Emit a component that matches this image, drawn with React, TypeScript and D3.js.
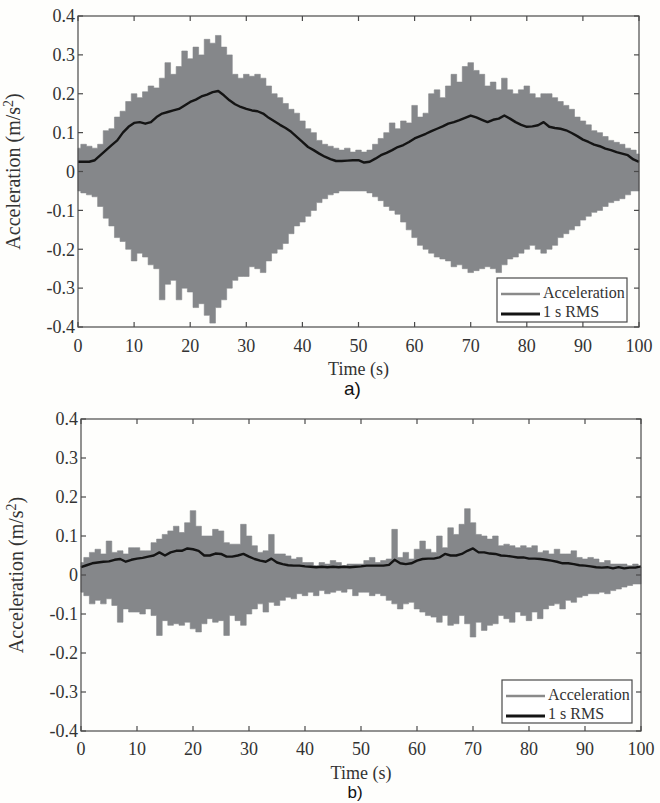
import React from "react";
import * as d3 from "d3";

// Time stamps (s), one per second of record
const TIME: number[] = d3.range(0, 101);

// Panel a) — peak envelope of the acceleration signal and the 1 s RMS (m/s²)
const A_UPPER: number[] = [
  0.06, 0.07, 0.065, 0.06, 0.07, 0.105, 0.11, 0.14, 0.155, 0.18,
  0.2, 0.19, 0.205, 0.22, 0.215, 0.24, 0.28, 0.25, 0.27, 0.31,
  0.29, 0.32, 0.3, 0.34, 0.33, 0.35, 0.32, 0.3, 0.25, 0.24,
  0.25, 0.245, 0.25, 0.24, 0.22, 0.2, 0.19, 0.175, 0.16, 0.15,
  0.13, 0.11, 0.1, 0.08, 0.07, 0.065, 0.06, 0.055, 0.06, 0.05,
  0.055, 0.05, 0.055, 0.07, 0.085, 0.1, 0.125, 0.11, 0.13, 0.125,
  0.17, 0.14, 0.15, 0.2, 0.21, 0.19, 0.22, 0.25, 0.23, 0.27,
  0.28, 0.26, 0.25, 0.22, 0.23, 0.21, 0.24, 0.21, 0.2, 0.21,
  0.22, 0.2, 0.19, 0.2, 0.2, 0.19, 0.18, 0.17, 0.16, 0.14,
  0.13, 0.12, 0.105, 0.1, 0.09, 0.08, 0.075, 0.07, 0.06, 0.055,
  0.045,
];
const A_LOWER: number[] = [
  -0.05, -0.055, -0.06, -0.065, -0.09, -0.12, -0.14, -0.17, -0.18, -0.2,
  -0.23, -0.21, -0.22, -0.24, -0.25, -0.33, -0.29, -0.28, -0.33, -0.3,
  -0.31, -0.35, -0.34, -0.37, -0.39, -0.35, -0.33, -0.3, -0.28, -0.27,
  -0.27, -0.245, -0.25, -0.26, -0.23, -0.21, -0.2, -0.185, -0.16, -0.14,
  -0.13, -0.115, -0.1, -0.08, -0.07, -0.06, -0.055, -0.05, -0.05, -0.05,
  -0.05, -0.05, -0.055, -0.065, -0.075, -0.09, -0.1, -0.11, -0.13, -0.15,
  -0.17, -0.19, -0.2, -0.21, -0.22, -0.225, -0.23, -0.245, -0.24, -0.25,
  -0.26, -0.255, -0.25, -0.245, -0.25, -0.26, -0.24, -0.225, -0.22, -0.21,
  -0.2, -0.19, -0.2, -0.21, -0.2, -0.19, -0.17, -0.16, -0.15, -0.14,
  -0.125, -0.115, -0.105, -0.1, -0.09, -0.08, -0.075, -0.07, -0.06, -0.05,
  -0.05,
];
const A_RMS: number[] = [
  0.025, 0.025, 0.025, 0.029, 0.042, 0.055, 0.068, 0.08, 0.1, 0.115,
  0.125, 0.127, 0.123, 0.127, 0.14, 0.149, 0.153, 0.157, 0.161, 0.17,
  0.179, 0.185, 0.193, 0.198, 0.204, 0.207, 0.196, 0.183, 0.173, 0.166,
  0.161, 0.157, 0.155, 0.149, 0.138, 0.129, 0.12, 0.112, 0.102, 0.089,
  0.076, 0.063, 0.055, 0.046, 0.038, 0.032, 0.027, 0.027, 0.028, 0.029,
  0.029, 0.023, 0.025, 0.033, 0.042, 0.048, 0.055, 0.063, 0.068, 0.076,
  0.085, 0.091, 0.097, 0.104, 0.11, 0.116, 0.123, 0.127, 0.132, 0.138,
  0.144, 0.139, 0.133, 0.127, 0.133, 0.136, 0.144, 0.136, 0.127, 0.12,
  0.115, 0.116, 0.119, 0.127, 0.115, 0.112, 0.11, 0.106, 0.099, 0.091,
  0.082, 0.076, 0.069, 0.065, 0.059, 0.055, 0.05, 0.046, 0.042, 0.031,
  0.025,
];

// Panel b) — peak envelope of the acceleration signal and the 1 s RMS (m/s²)
const B_UPPER: number[] = [
  0.032, 0.045, 0.058, 0.066, 0.054, 0.087, 0.058, 0.062, 0.054, 0.07,
  0.07, 0.062, 0.062, 0.083, 0.092, 0.104, 0.113, 0.125, 0.109, 0.134,
  0.165, 0.125, 0.1, 0.1, 0.117, 0.113, 0.083, 0.079, 0.079, 0.13,
  0.1, 0.075, 0.058, 0.062, 0.104, 0.054, 0.054, 0.049, 0.041, 0.045,
  0.032, 0.032, 0.024, 0.032, 0.028, 0.037, 0.032, 0.024, 0.028, 0.028,
  0.028, 0.037, 0.045, 0.032, 0.037, 0.041, 0.117, 0.045, 0.058, 0.041,
  0.066, 0.087, 0.066, 0.058, 0.1, 0.07, 0.121, 0.104, 0.13, 0.17,
  0.134, 0.104, 0.1, 0.092, 0.1, 0.075, 0.079, 0.075, 0.07, 0.075,
  0.07, 0.075, 0.058, 0.062, 0.054, 0.066, 0.054, 0.054, 0.062, 0.045,
  0.041, 0.045, 0.041, 0.032, 0.037, 0.028, 0.028, 0.028, 0.024, 0.028,
  0.02,
];
const B_LOWER: number[] = [
  -0.044, -0.053, -0.074, -0.065, -0.074, -0.061, -0.078, -0.121, -0.087, -0.095,
  -0.095, -0.1, -0.087, -0.104, -0.155, -0.117, -0.129, -0.125, -0.129, -0.121,
  -0.138, -0.146, -0.125, -0.112, -0.121, -0.117, -0.155, -0.104, -0.117, -0.129,
  -0.1, -0.087, -0.074, -0.095, -0.07, -0.078, -0.065, -0.057, -0.061, -0.048,
  -0.053, -0.044, -0.053, -0.04, -0.048, -0.044, -0.04, -0.044, -0.036, -0.053,
  -0.044, -0.044, -0.053, -0.048, -0.053, -0.065, -0.074, -0.087, -0.074, -0.07,
  -0.087, -0.095, -0.104, -0.108, -0.121, -0.104, -0.129, -0.125, -0.104, -0.125,
  -0.159, -0.121, -0.142, -0.129, -0.125, -0.104, -0.112, -0.121, -0.095, -0.104,
  -0.117, -0.095, -0.112, -0.087, -0.078, -0.074, -0.087, -0.065, -0.07, -0.057,
  -0.053, -0.048, -0.048, -0.044, -0.048, -0.04, -0.036, -0.031, -0.027, -0.023,
  -0.023,
];
const B_RMS: number[] = [
  0.02, 0.025, 0.03, 0.032, 0.034, 0.035, 0.039, 0.041, 0.034, 0.039,
  0.042, 0.044, 0.047, 0.05, 0.058, 0.05, 0.058, 0.062, 0.062, 0.068,
  0.066, 0.062, 0.05, 0.05, 0.055, 0.054, 0.047, 0.047, 0.05, 0.054,
  0.047, 0.041, 0.037, 0.034, 0.042, 0.032, 0.028, 0.025, 0.024, 0.024,
  0.022, 0.021, 0.02, 0.021, 0.02, 0.021, 0.02, 0.021, 0.02, 0.021,
  0.022, 0.024, 0.024, 0.024, 0.024, 0.026, 0.039, 0.03, 0.028, 0.03,
  0.037, 0.041, 0.042, 0.042, 0.045, 0.054, 0.05, 0.05, 0.054, 0.062,
  0.068, 0.058, 0.058, 0.055, 0.054, 0.05, 0.049, 0.047, 0.045, 0.045,
  0.042, 0.042, 0.041, 0.039, 0.037, 0.034, 0.03, 0.03, 0.028, 0.025,
  0.024, 0.022, 0.02, 0.019, 0.02, 0.017, 0.02, 0.017, 0.019, 0.019,
  0.022,
];

// Axis ticks
const X_TICKS: number[] = [0, 10, 20, 30, 40, 50, 60, 70, 80, 90, 100];
const Y_TICKS: number[] = [-0.4, -0.3, -0.2, -0.1, 0, 0.1, 0.2, 0.3, 0.4];
const LEGEND_LABELS: string[] = ["Acceleration", "1 s RMS"];

const SERIF = "'Liberation Serif', 'Times New Roman', serif";
const SANS = "'Liberation Sans', Arial, sans-serif";
const AXIS = "#4a4a4a";
const TEXT = "#333";
const SIGNAL = "#85878a";
const RMS_COLOR = "#141414";

type PanelProps = {
  left: number;
  right: number;
  top: number;
  bottom: number;
  upper: number[];
  lower: number[];
  rms: number[];
  caption: string;
  tickGap: number;
  titleY: number;
  captionY: number;
  captionSize: number;
  legend: { x: number; y: number; w: number; h: number };
};

function Panel(p: PanelProps) {
  const x = d3.scaleLinear().domain([0, 100]).range([p.left, p.right]);
  const y = d3.scaleLinear().domain([-0.4, 0.4]).range([p.bottom, p.top]);

  const rows = TIME.map((t, i) => ({ t, hi: p.upper[i], lo: p.lower[i], r: p.rms[i] }));

  // min/max band of the oscillation, one step per second
  const band = d3
    .area<(typeof rows)[number]>()
    .x((d) => x(d.t))
    .y0((d) => y(d.lo))
    .y1((d) => y(d.hi))
    .curve(d3.curveStep);

  const rmsLine = d3
    .line<(typeof rows)[number]>()
    .x((d) => x(d.t))
    .y((d) => y(d.r));

  const tickLen = 5;
  const fmt = (v: number) => (Math.abs(v) < 1e-9 ? "0" : v.toFixed(1));
  const midX = (p.left + p.right) / 2;
  const midY = y(0);
  const lg = p.legend;

  return (
    <g>
      <path d={band(rows) ?? ""} fill={SIGNAL} stroke={SIGNAL} strokeWidth={0.6} />
      <path
        d={rmsLine(rows) ?? ""}
        fill="none"
        stroke={RMS_COLOR}
        strokeWidth={2.4}
        strokeLinejoin="round"
      />

      {/* frame with inward ticks on every side */}
      <rect
        x={p.left}
        y={p.top}
        width={p.right - p.left}
        height={p.bottom - p.top}
        fill="none"
        stroke={AXIS}
        strokeWidth={1.2}
      />
      {X_TICKS.map((v) => (
        <g key={"x" + v}>
          <line x1={x(v)} x2={x(v)} y1={p.bottom} y2={p.bottom - tickLen} stroke={AXIS} strokeWidth={1.2} />
          <line x1={x(v)} x2={x(v)} y1={p.top} y2={p.top + tickLen} stroke={AXIS} strokeWidth={1.2} />
          <text
            x={x(v)}
            y={p.bottom + p.tickGap}
            textAnchor="middle"
            fontFamily={SERIF}
            fontSize={18}
            fill={TEXT}
          >
            {v}
          </text>
        </g>
      ))}
      {Y_TICKS.map((v) => (
        <g key={"y" + v}>
          <line x1={p.left} x2={p.left + tickLen} y1={y(v)} y2={y(v)} stroke={AXIS} strokeWidth={1.2} />
          <line x1={p.right} x2={p.right - tickLen} y1={y(v)} y2={y(v)} stroke={AXIS} strokeWidth={1.2} />
          <text
            x={p.left - 3}
            y={y(v)}
            dy="0.35em"
            textAnchor="end"
            fontFamily={SERIF}
            fontSize={18}
            fill={TEXT}
          >
            {fmt(v)}
          </text>
        </g>
      ))}

      {/* axis titles */}
      <text
        transform={`translate(${p.left - 58},${midY}) rotate(-90)`}
        textAnchor="middle"
        fontFamily={SERIF}
        fontSize={20}
        fill={TEXT}
      >
        Acceleration (m/s
        <tspan dy={-7} fontSize={14}>
          2
        </tspan>
        <tspan dy={7}>)</tspan>
      </text>
      <text x={midX} y={p.titleY} textAnchor="middle" fontFamily={SERIF} fontSize={18} fill={TEXT}>
        Time (s)
      </text>
      <text
        x={midX - 6}
        y={p.captionY}
        textAnchor="middle"
        fontFamily={SANS}
        fontSize={p.captionSize}
        fill="#111"
      >
        {p.caption}
      </text>

      {/* legend */}
      <rect x={lg.x} y={lg.y} width={lg.w} height={lg.h} fill="#fff" stroke={AXIS} strokeWidth={1.2} />
      <line x1={lg.x + 4} x2={lg.x + 43} y1={lg.y + 16} y2={lg.y + 16} stroke="#8a8a8a" strokeWidth={2.5} />
      <line x1={lg.x + 4} x2={lg.x + 43} y1={lg.y + 36} y2={lg.y + 36} stroke={RMS_COLOR} strokeWidth={3} />
      {LEGEND_LABELS.map((s, i) => (
        <text
          key={s}
          x={lg.x + 46}
          y={lg.y + 14 + i * 19}
          dy="0.35em"
          fontFamily={SERIF}
          fontSize={16}
          fill={TEXT}
        >
          {s}
        </text>
      ))}
    </g>
  );
}

export default function App() {
  return (
    <svg
      width={660}
      height={803}
      style={{ position: "absolute", left: 0, top: 0, background: "#fefefc" }}
    >
      <Panel
        left={78}
        right={639}
        top={16}
        bottom={327}
        upper={A_UPPER}
        lower={A_LOWER}
        rms={A_RMS}
        caption="a)"
        tickGap={25}
        titleY={375}
        captionY={395}
        captionSize={19}
        legend={{ x: 497, y: 278, w: 130, h: 44 }}
      />
      <Panel
        left={81}
        right={641}
        top={419}
        bottom={731}
        upper={B_UPPER}
        lower={B_LOWER}
        rms={B_RMS}
        caption="b)"
        tickGap={24}
        titleY={779}
        captionY={798}
        captionSize={17}
        legend={{ x: 502, y: 680, w: 130, h: 43 }}
      />
    </svg>
  );
}
